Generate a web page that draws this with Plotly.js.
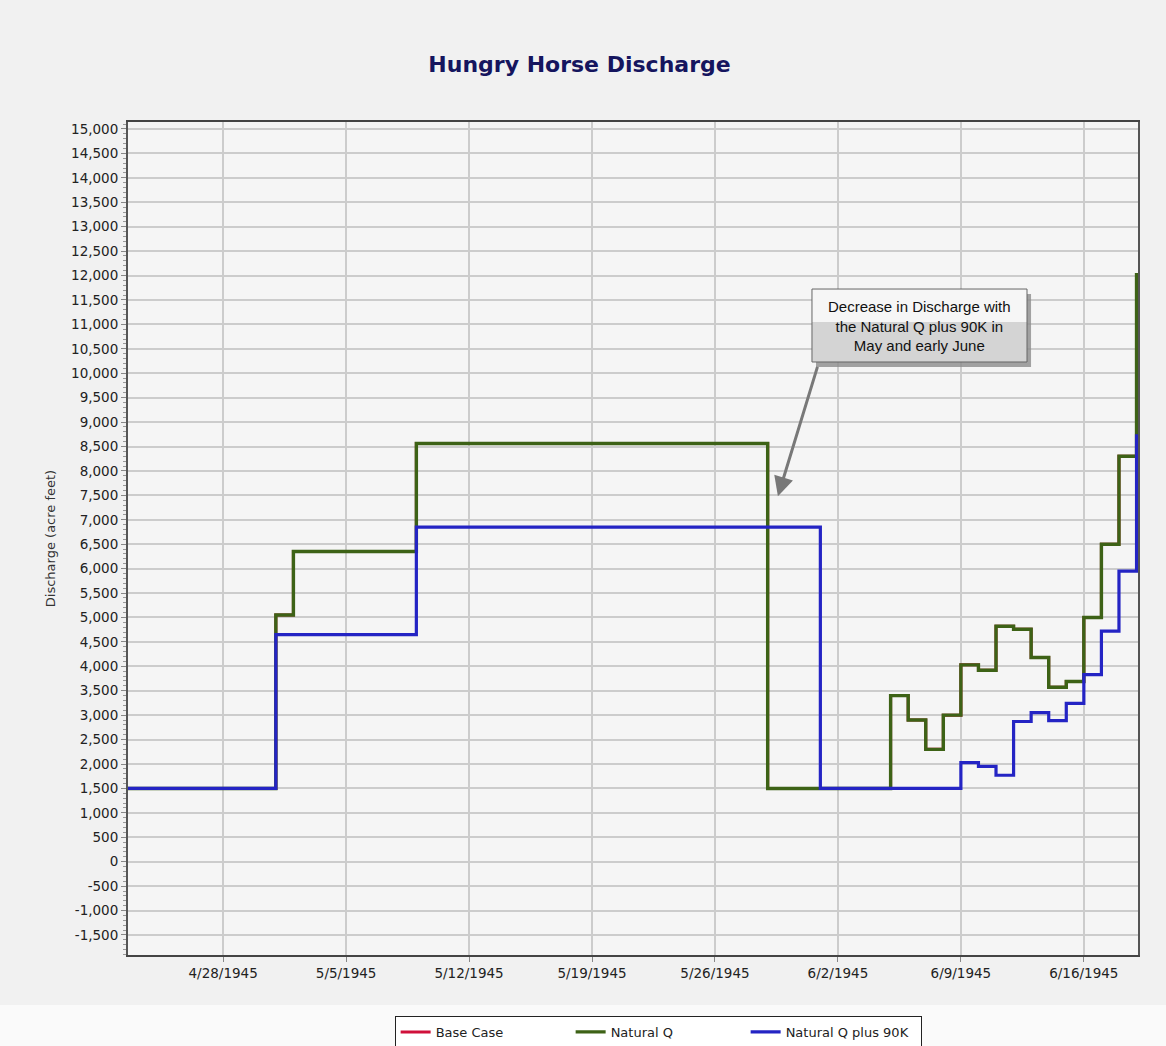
<!DOCTYPE html>
<html>
<head>
<meta charset="utf-8">
<script src="https://cdn.plot.ly/plotly-3.0.1.min.js"></script>
<style>
  html, body { margin: 0; padding: 0; background: #f1f1f1; }
  #chart { width: 1166px; height: 1046px; }
</style>
</head>
<body>
<div id="chart"></div>
<script>
// ---- Data (daily values, 4/22/1945 .. 6/19/1945) ----
const startDate = '1945-04-22';

const baseCase = [
  1500, 1500, 1500, 1500, 1500, 1500, 1500, 1500, 1500,
  5050,
  6350, 6350, 6350, 6350, 6350, 6350, 6350,
  8560, 8560, 8560, 8560, 8560, 8560, 8560, 8560, 8560, 8560,
  8560, 8560, 8560, 8560, 8560, 8560, 8560, 8560, 8560, 8560,
  1500, 1500, 1500, 1500, 1500, 1500, 1500,
  3400, 2900, 2300, 3000, 4030, 3920, 4820, 4760, 4180, 3570, 3690, 5000, 6500, 8300, 12050
];

const naturalQ = [
  1500, 1500, 1500, 1500, 1500, 1500, 1500, 1500, 1500,
  5050,
  6350, 6350, 6350, 6350, 6350, 6350, 6350,
  8560, 8560, 8560, 8560, 8560, 8560, 8560, 8560, 8560, 8560,
  8560, 8560, 8560, 8560, 8560, 8560, 8560, 8560, 8560, 8560,
  1500, 1500, 1500, 1500, 1500, 1500, 1500,
  3400, 2900, 2300, 3000, 4030, 3920, 4820, 4760, 4180, 3570, 3690, 5000, 6500, 8300, 12050
];

const naturalQPlus90K = [
  1500, 1500, 1500, 1500, 1500, 1500, 1500, 1500, 1500,
  4650, 4650, 4650, 4650, 4650, 4650, 4650, 4650,
  6850, 6850, 6850, 6850, 6850, 6850, 6850, 6850, 6850, 6850, 6850, 6850,
  6850, 6850, 6850, 6850, 6850, 6850, 6850, 6850, 6850, 6850, 6850,
  1500, 1500, 1500, 1500, 1500, 1500, 1500, 1500,
  2030, 1950, 1770, 2870, 3050, 2890, 3240, 3830, 4720, 5950, 8750
];

const seriesNames = ['Base Case', 'Natural Q', 'Natural Q plus 90K'];

const xTickVals = ['1945-04-28', '1945-05-05', '1945-05-12', '1945-05-19',
                   '1945-05-26', '1945-06-02', '1945-06-09', '1945-06-16'];
const xTickText = ['4/28/1945', '5/5/1945', '5/12/1945', '5/19/1945',
                   '5/26/1945', '6/2/1945', '6/9/1945', '6/16/1945'];

const yTickVals = [-1500, -1000, -500, 0, 500, 1000, 1500, 2000, 2500, 3000, 3500,
                   4000, 4500, 5000, 5500, 6000, 6500, 7000, 7500, 8000, 8500, 9000,
                   9500, 10000, 10500, 11000, 11500, 12000, 12500, 13000, 13500,
                   14000, 14500, 15000];

const annotationText = 'Decrease in Discharge with<br>the Natural Q plus 90K in<br>May and early June';

// ---- Build dates ----
function buildDates(start, n) {
  const out = [];
  const d0 = new Date(start + 'T00:00:00Z');
  for (let i = 0; i < n; i++) {
    const d = new Date(d0.getTime() + i * 86400000);
    out.push(d.toISOString().slice(0, 10));
  }
  return out;
}
const dates = buildDates(startDate, naturalQ.length);

const FONT = 'DejaVu Sans, Verdana, sans-serif';

const traces = [
  { x: dates, y: baseCase, name: seriesNames[0], type: 'scatter', mode: 'lines',
    line: { color: '#d0103a', width: 3, shape: 'hv' } },
  { x: dates, y: naturalQ, name: seriesNames[1], type: 'scatter', mode: 'lines',
    line: { color: '#3d6216', width: 3.4, shape: 'hv' } },
  { x: dates, y: naturalQPlus90K, name: seriesNames[2], type: 'scatter', mode: 'lines',
    line: { color: '#2424c4', width: 3.2, shape: 'hv' } }
];

const layout = {
  width: 1166, height: 1046,
  paper_bgcolor: '#f1f1f1',
  plot_bgcolor: '#f5f5f5',
  margin: { l: 128, r: 28, t: 122, b: 91, autoexpand: false },
  font: { family: FONT, color: '#222' },
  title: {
    text: '<b>Hungry Horse Discharge</b>',
    font: { family: FONT, size: 22, color: '#15155e' },
    x: 0.497, xref: 'container', xanchor: 'center',
    y: 0.939, yref: 'container', yanchor: 'middle'
  },
  showlegend: true,
  legend: {
    orientation: 'h',
    x: 0.264, xanchor: 'left', xref: 'paper',
    y: -0.0924, yanchor: 'middle', yref: 'paper',
    bgcolor: '#ffffff', bordercolor: '#222', borderwidth: 1,
    font: { family: FONT, size: 13, color: '#222' },
    entrywidth: 130, entrywidthmode: 'pixels',
    traceorder: 'normal'
  },
  xaxis: {
    type: 'date',
    range: ['1945-04-22 14:00', '1945-06-19 02:00'],
    tickvals: xTickVals, ticktext: xTickText,
    tickfont: { family: FONT, size: 13.5, color: '#222' },
    showgrid: true, gridcolor: '#cccccc', gridwidth: 1.5,
    ticks: 'outside', ticklen: 5, tickcolor: '#888',
    showline: true, linecolor: '#444', linewidth: 1.5, mirror: true,
    zeroline: false
  },
  yaxis: {
    range: [-1910, 15143],
    tickvals: yTickVals,
    ticktext: yTickVals.map(v => v.toLocaleString('en-US')),
    tickfont: { family: FONT, size: 13.5, color: '#222' },
    title: { text: 'Discharge (acre feet)', font: { family: FONT, size: 13, color: '#333' }, standoff: 12 },
    showgrid: true, gridcolor: '#cccccc', gridwidth: 1.5,
    ticks: 'outside', ticklen: 5, tickcolor: '#888',
    minor: { dtick: 100, ticks: 'outside', ticklen: 3, tickcolor: '#999', showgrid: false },
    showline: true, linecolor: '#555', linewidth: 2, mirror: true,
    zeroline: false
  },
  shapes: [
    // lighter band at bottom behind legend
    { type: 'rect', xref: 'paper', yref: 'paper', x0: -0.2, x1: 1.05, y0: -0.12, y1: -0.06,
      fillcolor: '#fafafa', line: { width: 0 }, layer: 'below' },
    // annotation box shadow
    { type: 'rect', xref: 'paper', yref: 'paper', x0: 0.6812, x1: 0.8941, y0: 0.7059, y1: 0.7935,
      fillcolor: '#8c8c8c', line: { width: 0 }, layer: 'above', opacity: 0.8 },
    // annotation box lower (gray) part
    { type: 'rect', xref: 'paper', yref: 'paper', x0: 0.6772, x1: 0.8901, y0: 0.7119, y1: 0.7600,
      fillcolor: '#d4d4d4', line: { width: 0 }, layer: 'above' },
    // annotation box upper (light) part
    { type: 'rect', xref: 'paper', yref: 'paper', x0: 0.6772, x1: 0.8901, y0: 0.7600, y1: 0.7995,
      fillcolor: '#f6f6f6', line: { width: 0 }, layer: 'above' },
    // annotation box border
    { type: 'rect', xref: 'paper', yref: 'paper', x0: 0.6772, x1: 0.8901, y0: 0.7119, y1: 0.7995,
      fillcolor: 'rgba(0,0,0,0)', line: { width: 1, color: '#666' }, layer: 'above' }
  ],
  annotations: [
    {
      xref: 'paper', yref: 'paper', x: 0.7837, y: 0.7557,
      xanchor: 'center', yanchor: 'middle',
      text: annotationText, showarrow: false,
      font: { family: 'Liberation Sans, Arial, sans-serif', size: 15, color: '#111' },
      align: 'center'
    },
    {
      x: '1945-05-29 14:00', y: 7480, xref: 'x', yref: 'y',
      text: '', showarrow: true,
      ax: 40, ay: -131,
      arrowcolor: '#787878', arrowwidth: 3, arrowhead: 2, arrowsize: 1.3, standoff: 0
    }
  ]
};

Plotly.newPlot('chart', traces, layout, { displayModeBar: false, responsive: false });
</script>
</body>
</html>
